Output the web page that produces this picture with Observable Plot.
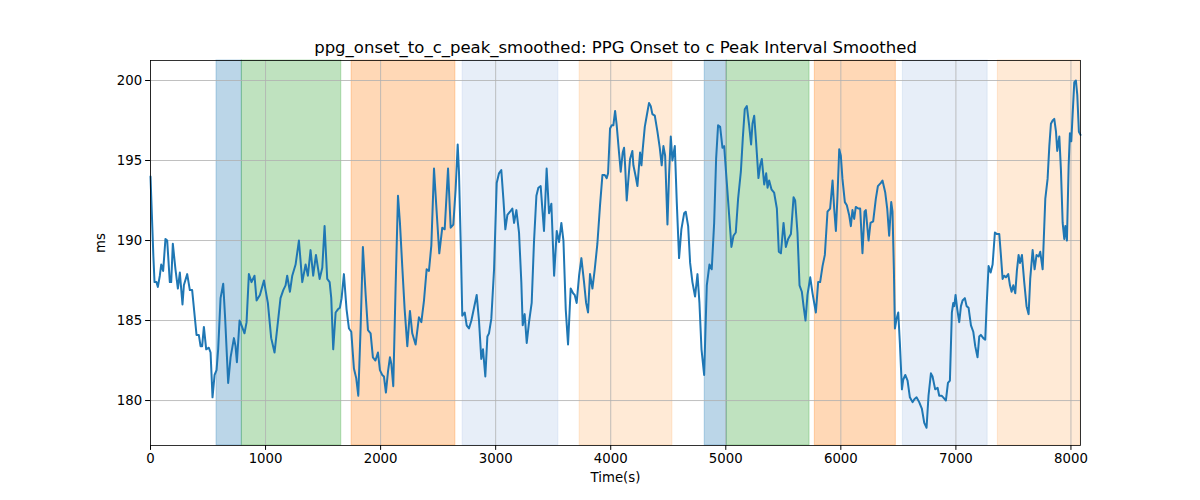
<!DOCTYPE html>
<html>
<head>
<meta charset="utf-8">
<script src="https://cdn.jsdelivr.net/npm/d3@7"></script>
<script src="https://cdn.jsdelivr.net/npm/@observablehq/plot@0.6"></script>
<style>
  html, body { margin: 0; padding: 0; background: #fff; }
  #chart svg { display: block; }
</style>
</head>
<body>
<div id="chart"></div>
<script>
const chartTitle = "ppg_onset_to_c_peak_smoothed: PPG Onset to c Peak Interval Smoothed";
const xLabel = "Time(s)";
const yLabel = "ms";
const xTicks = [0, 1000, 2000, 3000, 4000, 5000, 6000, 7000, 8000];
const yTicks = [180, 185, 190, 195, 200];

const bandStart = [574, 794, 1748, 2713, 3730, 4817, 5009, 5774, 6539, 7365];
const bandEnd   = [794, 1658, 2650, 3545, 4536, 5009, 5728, 6478, 7276, 8083];
const bandPhase = ["A", "B", "C", "D", "E", "A", "B", "C", "D", "E"];

const time = [0,25,35,52,64,81,93,110,130,145,168,180,194,217,238,255,278,290,319,342,362,400,420,435,449,464,484,507,522,539,557,574,588,609,632,649,675,696,725,739,751,774,791,817,835,855,878,904,922,951,986,1000,1020,1049,1078,1101,1130,1154,1174,1188,1212,1232,1261,1290,1319,1348,1368,1391,1414,1438,1470,1493,1513,1536,1557,1571,1588,1609,1629,1646,1661,1681,1704,1725,1745,1768,1788,1806,1826,1846,1870,1890,1913,1933,1955,1977,1994,2014,2029,2046,2064,2081,2093,2110,2130,2151,2168,2188,2209,2232,2255,2275,2304,2333,2354,2377,2400,2420,2441,2464,2487,2510,2536,2557,2586,2609,2632,2652,2670,2681,2696,2710,2731,2748,2768,2789,2812,2835,2855,2875,2890,2910,2928,2942,2962,2986,3009,3029,3049,3067,3084,3102,3125,3145,3160,3180,3203,3223,3235,3252,3270,3290,3313,3333,3354,3371,3391,3420,3443,3464,3484,3508,3531,3551,3571,3589,3609,3629,3652,3673,3687,3704,3725,3745,3768,3786,3803,3820,3841,3861,3884,3907,3928,3948,3965,3977,3994,4009,4023,4038,4052,4072,4087,4104,4116,4125,4139,4151,4168,4188,4197,4217,4232,4255,4267,4278,4296,4313,4333,4348,4362,4383,4406,4426,4443,4458,4473,4493,4507,4522,4536,4557,4574,4594,4614,4638,4652,4673,4690,4710,4733,4754,4771,4789,4812,4835,4858,4878,4899,4916,4933,4951,4971,4986,5009,5029,5049,5067,5087,5107,5131,5148,5165,5183,5203,5220,5232,5247,5264,5284,5299,5313,5334,5351,5363,5377,5397,5420,5444,5461,5479,5502,5522,5542,5566,5589,5603,5623,5641,5661,5676,5693,5710,5734,5754,5783,5803,5820,5841,5861,5884,5907,5928,5942,5957,5971,5986,6000,6014,6035,6052,6072,6087,6101,6116,6130,6151,6168,6188,6206,6217,6241,6258,6281,6304,6322,6348,6362,6386,6403,6420,6438,6449,6461,6470,6484,6499,6513,6531,6542,6560,6580,6600,6623,6641,6658,6681,6704,6725,6745,6762,6783,6797,6820,6841,6855,6876,6890,6913,6931,6948,6965,6977,6986,6997,7012,7029,7044,7058,7078,7093,7110,7131,7151,7168,7188,7203,7217,7238,7255,7267,7284,7302,7319,7339,7357,7377,7391,7406,7420,7435,7455,7470,7484,7499,7516,7530,7545,7557,7574,7594,7614,7632,7646,7667,7684,7701,7719,7733,7754,7777,7797,7812,7826,7841,7855,7870,7881,7899,7913,7928,7942,7951,7965,7980,7991,8003,8014,8029,8043,8055,8069,8083];

const ms = [194.0,189.0,187.4,187.4,187.1,187.8,188.5,188.1,190.1,190.0,187.4,187.4,189.8,188.2,187.0,188.0,186.0,187.2,187.9,186.9,186.9,184.1,184.1,183.4,183.4,184.6,183.2,183.3,183.0,180.2,181.6,181.9,183.2,186.4,187.3,185.1,181.1,182.7,183.9,183.4,182.4,185.0,184.7,184.2,184.9,187.9,187.4,187.8,186.25,186.6,187.5,186.9,186.1,183.9,183.0,184.5,186.4,186.9,187.2,187.8,186.8,187.8,188.5,190.0,187.4,188.5,187.8,189.4,187.8,189.1,187.6,188.3,190.9,187.6,187.4,186.4,183.2,185.5,185.7,185.8,186.4,187.9,185.7,184.5,184.3,182.0,181.4,180.3,184.5,189.6,186.6,184.4,184.2,182.7,182.5,183.0,181.9,181.6,181.5,180.5,181.8,182.7,182.3,180.9,187.0,192.8,191.1,188.4,185.7,183.4,185.6,184.2,183.5,185.2,184.9,186.25,188.2,188.1,189.7,194.5,191.8,189.2,190.8,190.7,194.5,190.8,191.0,193.2,196.0,194.3,189.9,185.3,185.5,184.7,184.5,185.0,185.8,186.6,185.0,182.6,183.2,181.5,184.0,184.2,185.1,188.2,193.6,194.2,194.4,192.6,190.7,191.6,191.8,192.0,191.1,191.9,190.5,187.4,184.7,185.4,183.6,184.9,186.1,189.9,192.8,193.3,193.4,190.6,194.5,191.7,192.3,187.8,190.6,189.9,191.1,190.0,185.7,183.5,187.0,186.7,186.6,186.1,187.8,188.9,187.4,186.1,185.5,187.9,187.0,188.2,189.8,192.2,194.1,194.1,193.9,194.2,197.0,197.2,197.2,198.1,197.2,195.5,194.3,195.5,195.8,194.7,192.5,193.6,195.1,195.6,194.7,194.0,193.4,195.5,194.7,195.7,197.1,197.8,198.6,198.4,197.9,197.8,196.8,195.8,194.7,195.9,195.3,191.0,194.1,196.5,195.0,195.9,192.4,188.9,190.7,191.7,191.8,190.9,188.6,187.4,186.5,187.9,186.1,183.2,181.6,187.2,188.5,188.2,191.1,195.1,197.2,197.1,195.8,195.9,193.6,191.6,189.6,190.3,190.5,192.6,194.3,196.4,198.2,198.4,197.2,196.0,197.3,197.8,196.1,193.9,194.7,195.1,193.5,194.2,193.3,193.75,193.2,193.0,192.0,189.3,189.2,191.1,189.6,190.1,190.4,192.7,192.5,190.5,187.2,186.8,185.9,185.0,186.6,187.7,186.7,185.5,187.4,187.4,188.4,189.1,191.8,192.0,193.75,192.0,190.6,192.8,195.7,195.3,193.85,192.4,192.2,191.6,190.9,191.9,191.35,192.1,192.0,192.0,189.2,191.8,191.9,190.0,191.1,191.2,192.6,193.4,193.6,193.75,193.0,192.0,190.3,192.4,191.8,188.2,184.5,185.1,185.5,183.6,180.7,181.3,181.6,181.25,180.2,179.9,180.1,180.2,179.9,179.5,178.6,178.3,180.3,181.7,181.5,180.7,180.8,180.3,180.3,180.2,180.0,181.1,181.25,185.5,186.1,185.9,186.6,185.7,184.9,185.9,186.25,186.4,185.9,185.8,184.7,184.3,183.4,182.7,184.0,184.1,183.9,183.8,185.9,188.4,188.0,188.5,190.5,190.4,190.4,189.1,187.6,187.8,187.7,187.9,187.2,186.8,187.2,186.7,188.1,189.1,188.6,189.1,187.4,185.9,185.4,187.6,189.4,188.2,189.1,189.0,189.3,188.2,192.6,193.85,195.9,197.3,197.5,197.6,196.8,195.6,196.5,194.4,191.1,190.1,190.9,190.0,194.7,196.7,196.2,197.8,199.9,200.0,199.1,196.8,196.6];

const phaseColor = { A: "#1f77b4", B: "#2ca02c", C: "#ff7f0e", D: "#aec7e8", E: "#ffbb78" };

const series = time.map((t, i) => ({ t, v: ms[i] }));
const bands = bandStart.map((s, i) => ({ s, e: bandEnd[i], phase: bandPhase[i] }));

const font = "DejaVu Sans, sans-serif";

const plot = Plot.plot({
  width: 1200,
  height: 500,
  marginLeft: 150,
  marginRight: 120,
  marginTop: 60,
  marginBottom: 55,
  style: { fontFamily: font, fontSize: "13.3px", color: "#000", background: "#fff" },
  x: { domain: [0, 8083], label: null },
  y: { domain: [177.19, 201.25], label: null },
  marks: [
    Plot.rect(bands, { x1: "s", x2: "e", fill: d => phaseColor[d.phase], fillOpacity: 0.3,
                       stroke: d => phaseColor[d.phase], strokeOpacity: 0.3, strokeWidth: 1 }),
    Plot.gridX(xTicks, { stroke: "#b0b0b0", strokeOpacity: 1, strokeWidth: 0.8 }),
    Plot.gridY(yTicks, { stroke: "#b0b0b0", strokeOpacity: 1, strokeWidth: 0.8 }),
    Plot.line(series, { x: "t", y: "v", stroke: "#1f77b4", strokeWidth: 2, curve: "linear" }),
    Plot.frame({ stroke: "#000", strokeWidth: 0.8 }),
    Plot.axisX({ ticks: xTicks, tickSize: 4.9, tickPadding: 3.5, tickFormat: d => String(d), label: null, fontSize: 13.3 }),
    Plot.axisY({ ticks: yTicks, tickSize: 4.9, tickPadding: 3.5, tickFormat: d => String(d), label: null, fontSize: 13.3 }),
    Plot.text([chartTitle], { frameAnchor: "top", dy: -8, lineAnchor: "bottom", fontSize: 16.5, fill: "#000" }),
    Plot.text([xLabel], { frameAnchor: "bottom", dy: 27, lineAnchor: "top", fontSize: 13.3, fill: "#000" }),
    Plot.text([yLabel], { frameAnchor: "left", dx: -50, rotate: -90, fontSize: 13.3, fill: "#000" })
  ]
});

document.getElementById("chart").appendChild(plot);
</script>
</body>
</html>
